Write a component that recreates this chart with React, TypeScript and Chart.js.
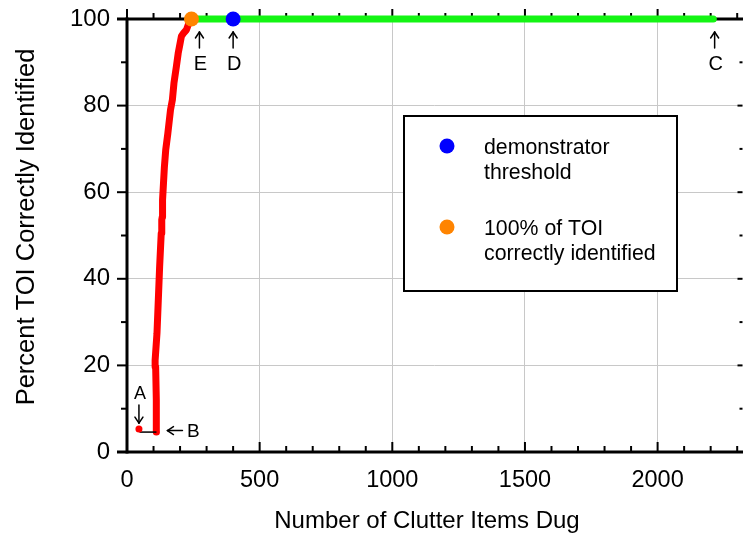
import React, { useEffect, useRef } from 'react';
import { Chart, registerables } from 'chart.js';

Chart.register(...registerables);

const FONT = '"Liberation Sans", Arial, Helvetica, sans-serif';

// ---- data ----
const xTickValues = [0, 500, 1000, 1500, 2000];
const yTickValues = [0, 20, 40, 60, 80, 100];
const xMin = 0;
const xMax = 2320;
const yMin = 0;
const yMax = 100;

const curveX = [111, 111, 110, 108, 106, 113, 118, 123, 129, 131, 133, 134, 141, 146, 154, 164, 171, 177, 186, 193, 198, 205, 214, 224, 231, 243];
const curveY = [4.6, 5, 12, 19.7, 21.2, 27.4, 35.1, 42.8, 50.5, 53.6, 54.3, 58.2, 65.9, 69.8, 73.6, 79, 81.3, 85.2, 89, 92.1, 93.7, 96, 96.8, 97.5, 98.7, 100];

const plateauX = [243, 2210];
const plateauY = [100, 100];

const bracketX = [47, 111];
const bracketY = [4.6, 4.6];

const pointA = { x: 45, y: 5.3 };
const fullPoint = { x: 243, y: 100 };
const thresholdPoint = { x: 400, y: 100 };

const annLabels = ['A', 'B', 'C', 'D', 'E'];
const annX = [45, 111, 2215, 400, 273];
const annY = [5.3, 4.6, 100, 100, 100];
const annDir = ['down', 'left', 'up', 'up', 'up'];

const legendLines = [['demonstrator', 'threshold'], ['100% of TOI', 'correctly identified']];
const legendColors = ['#0000ff', '#ff8400'];

const xTitle = 'Number of Clutter Items Dug';
const yTitle = 'Percent TOI Correctly Identified';

const toPts = (xs: number[], ys: number[]) => xs.map((x, i) => ({ x, y: ys[i] }));

const framePlugin = {
  id: 'frame',
  beforeDatasetsDraw(chart: any) {
    const { ctx, chartArea: a, scales } = chart;
    const x = scales.x;
    const y = scales.y;
    const W = chart.width;
    const line = (x1: number, y1: number, x2: number, y2: number) => {
      ctx.beginPath();
      ctx.moveTo(x1, y1);
      ctx.lineTo(x2, y2);
      ctx.stroke();
    };
    ctx.save();
    ctx.strokeStyle = '#000';
    ctx.lineCap = 'butt';
    ctx.lineWidth = 2;
    for (let v = xMin; v <= xMax; v += 100) {
      const px = x.getPixelForValue(v);
      const len = v % 500 === 0 ? 10 : 6;
      line(px, a.bottom, px, a.bottom - len);
      line(px, a.top, px, a.top - len);
    }
    for (let v = yMin; v <= yMax; v += 10) {
      const py = y.getPixelForValue(v);
      const major = v % 20 === 0;
      line(a.left, py, a.left - (major ? 10 : 6), py);
      line(a.right, py, a.right - (major ? 5 : 3), py);
    }
    ctx.lineWidth = 3;
    line(a.left - 10, a.bottom, W, a.bottom);
    line(a.left - 10, a.top, W, a.top);
    line(a.left, a.top - 1.5, a.left, a.bottom + 1.5);
    ctx.restore();
  },
  afterDraw(chart: any) {
    const { ctx, scales } = chart;
    const x = scales.x;
    const y = scales.y;
    ctx.save();
    // axis titles
    ctx.fillStyle = '#000';
    ctx.textAlign = 'center';
    ctx.textBaseline = 'middle';
    ctx.font = `24px ${FONT}`;
    ctx.fillText(xTitle, 427, 521);
    ctx.save();
    ctx.font = `25.5px ${FONT}`;
    ctx.translate(27, 227);
    ctx.rotate(-Math.PI / 2);
    ctx.fillText(yTitle, 0, 0);
    ctx.restore();

    // annotations
    ctx.strokeStyle = '#000';
    ctx.lineWidth = 1.5;
    ctx.lineCap = 'round';
    const seg = (x1: number, y1: number, x2: number, y2: number) => {
      ctx.beginPath();
      ctx.moveTo(x1, y1);
      ctx.lineTo(x2, y2);
      ctx.stroke();
    };
    annLabels.forEach((lab, i) => {
      const px = x.getPixelForValue(annX[i]);
      const py = y.getPixelForValue(annY[i]);
      const dir = annDir[i];
      if (dir === 'up') {
        seg(px, py + 29, px, py + 13);
        seg(px, py + 13, px - 4, py + 19);
        seg(px, py + 13, px + 4, py + 19);
        ctx.font = `20px ${FONT}`;
        ctx.fillText(lab, px + 1, py + 45);
      } else if (dir === 'down') {
        seg(px, py - 24, px, py - 6);
        seg(px, py - 6, px - 4, py - 12);
        seg(px, py - 6, px + 4, py - 12);
        ctx.font = `18px ${FONT}`;
        ctx.fillText(lab, px + 1, py - 35);
      } else {
        const yy = py - 1.5;
        seg(px + 26, yy, px + 11, yy);
        seg(px + 11, yy, px + 17, yy - 4);
        seg(px + 11, yy, px + 17, yy + 4);
        ctx.font = `19px ${FONT}`;
        ctx.fillText(lab, px + 37, yy + 1);
      }
    });

    // legend box
    const bx = 404, by = 116, bw = 273, bh = 175;
    ctx.fillStyle = '#fff';
    ctx.fillRect(bx, by, bw, bh);
    ctx.strokeStyle = '#000';
    ctx.lineWidth = 2;
    ctx.strokeRect(bx, by, bw, bh);
    ctx.font = `21.3px ${FONT}`;
    ctx.textAlign = 'left';
    ctx.textBaseline = 'middle';
    legendLines.forEach((lines, i) => {
      const cy = 146 + i * 81;
      ctx.fillStyle = legendColors[i];
      ctx.beginPath();
      ctx.arc(447, cy, 7.5, 0, Math.PI * 2);
      ctx.fill();
      ctx.fillStyle = '#000';
      lines.forEach((t, j) => ctx.fillText(t, 484, cy + 2 + j * 25.5));
    });
    ctx.restore();
  },
};

export default function App() {
  const ref = useRef<HTMLCanvasElement>(null);
  useEffect(() => {
    if (!ref.current) return;
    const chart = new Chart(ref.current, {
      type: 'scatter',
      data: {
        datasets: [
          {
            label: 'plateau',
            data: toPts(plateauX, plateauY),
            showLine: true,
            borderColor: '#14f514',
            borderWidth: 7,
            borderCapStyle: 'round',
            pointRadius: 0,
            clip: false,
            order: 5,
          } as any,
          {
            label: 'curve',
            data: toPts(curveX, curveY),
            showLine: true,
            borderColor: '#ff0000',
            borderWidth: 7,
            borderCapStyle: 'round',
            borderJoinStyle: 'round',
            pointRadius: 0,
            clip: false,
            order: 4,
          } as any,
          {
            label: 'bracket',
            data: toPts(bracketX, bracketY),
            showLine: true,
            borderColor: '#000',
            borderWidth: 1.5,
            pointRadius: 0,
            clip: false,
            order: 3,
          } as any,
          {
            label: 'A',
            data: [pointA],
            pointRadius: 3.5,
            pointBackgroundColor: '#ff0000',
            pointBorderWidth: 0,
            clip: false,
            order: 2,
          } as any,
          {
            label: '100% of TOI correctly identified',
            data: [fullPoint],
            pointRadius: 7.5,
            pointBackgroundColor: '#ff8400',
            pointBorderWidth: 0,
            clip: false,
            order: 1,
          } as any,
          {
            label: 'demonstrator threshold',
            data: [thresholdPoint],
            pointRadius: 7.5,
            pointBackgroundColor: '#0000ff',
            pointBorderWidth: 0,
            clip: false,
            order: 0,
          } as any,
        ],
      },
      options: {
        animation: false,
        responsive: false,
        maintainAspectRatio: false,
        events: [],
        layout: { padding: { top: 19, right: 6, left: 0, bottom: 0 } },
        plugins: { legend: { display: false }, tooltip: { enabled: false } },
        scales: {
          x: {
            type: 'linear',
            min: xMin,
            max: xMax,
            afterBuildTicks: (s: any) => {
              s.ticks = xTickValues.map((v) => ({ value: v }));
            },
            afterFit: (s: any) => {
              s.height = 85;
              s.paddingLeft = 0;
              s.paddingRight = 0;
              s.paddingTop = 0;
              s.paddingBottom = 0;
            },
            grid: { color: '#c8c8c8', lineWidth: 1, drawTicks: false },
            border: { display: false },
            ticks: {
              font: { family: FONT, size: 23.5 },
              color: '#000',
              padding: 14,
              maxRotation: 0,
              autoSkip: false,
              callback: (v: any) => String(v),
            },
          },
          y: {
            type: 'linear',
            min: yMin,
            max: yMax,
            afterBuildTicks: (s: any) => {
              s.ticks = yTickValues.map((v) => ({ value: v }));
            },
            afterFit: (s: any) => {
              s.width = 127;
              s.paddingLeft = 0;
              s.paddingRight = 0;
              s.paddingTop = 0;
              s.paddingBottom = 0;
            },
            grid: { color: '#c8c8c8', lineWidth: 1, drawTicks: false },
            border: { display: false },
            ticks: {
              font: { family: FONT, size: 24 },
              color: '#000',
              padding: 17,
              autoSkip: false,
              callback: (v: any) => String(v),
            },
          },
        },
      } as any,
      plugins: [framePlugin],
    });
    return () => chart.destroy();
  }, []);
  return (
    <div style={{ position: 'fixed', left: 0, top: 0, width: 743, height: 537, overflow: 'hidden', background: '#fff' }}>
      <canvas ref={ref} width={750} height={537} style={{ display: 'block', width: 750, height: 537 }} />
    </div>
  );
}
